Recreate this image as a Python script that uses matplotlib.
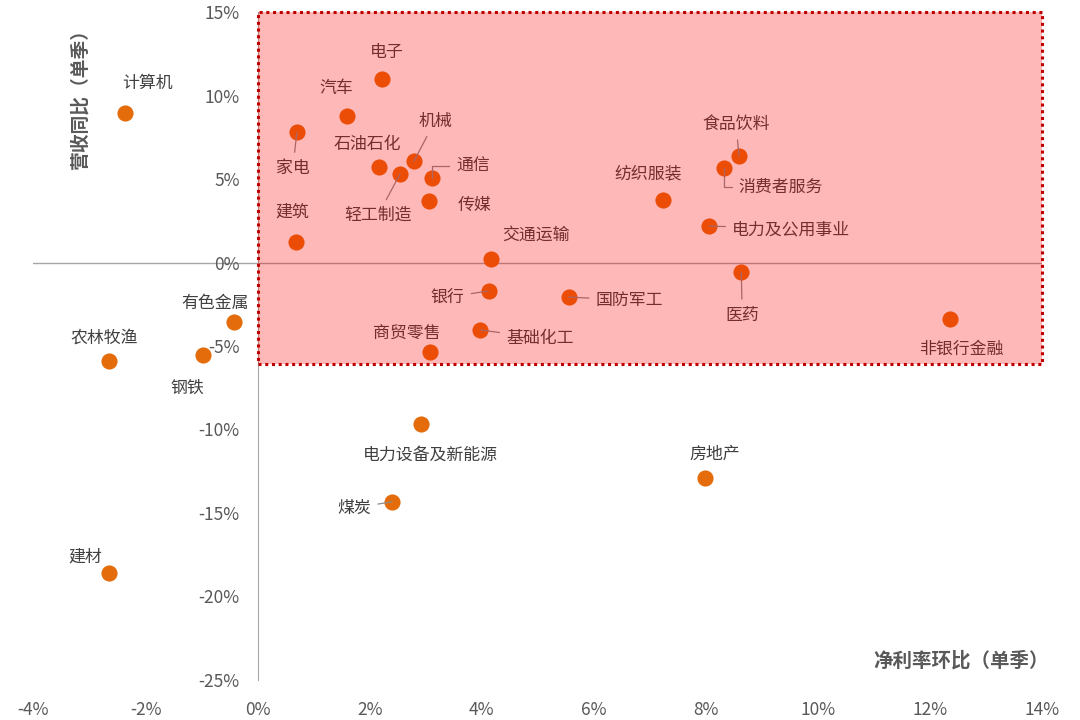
import matplotlib
matplotlib.use("Agg")
import matplotlib.pyplot as plt
from matplotlib.patches import Rectangle
from matplotlib.ticker import FuncFormatter

plt.rcParams['font.family'] = ['Noto Sans CJK SC', 'DejaVu Sans']

# data: net margin qoq (x, %), revenue yoy (y, %), single quarter
industries = ['计算机', '电子', '汽车', '家电', '石油石化', '机械', '轻工制造', '通信', '传媒',
              '建筑', '交通运输', '银行', '基础化工', '商贸零售', '国防军工', '纺织服装',
              '食品饮料', '消费者服务', '电力及公用事业', '医药', '非银行金融', '有色金属',
              '农林牧渔', '钢铁', '电力设备及新能源', '煤炭', '房地产', '建材']
net_margin_qoq = [-2.36, 2.22, 1.59, 0.70, 2.17, 2.79, 2.54, 3.11, 3.06,
                  0.68, 4.17, 4.12, 3.97, 3.08, 5.55, 7.23,
                  8.59, 8.32, 8.06, 8.63, 12.35, -0.43,
                  -2.65, -0.97, 2.92, 2.40, 7.98, -2.65]
revenue_yoy = [8.95, 10.99, 8.77, 7.81, 5.72, 6.08, 5.30, 5.06, 3.68,
               1.23, 0.21, -1.71, -4.04, -5.36, -2.07, 3.74,
               6.38, 5.66, 2.19, -0.57, -3.38, -3.56,
               -5.90, -5.54, -9.67, -14.34, -12.90, -18.59]

# label offsets in pixels (dx, dy) and whether a leader line is drawn
label_pos = {
    '计算机': (22, 30, False), '电子': (5, 27, False), '汽车': (-10, 28, False),
    '家电': (-4, -36, True), '石油石化': (-12, 23, False), '机械': (21, 40, True),
    '轻工制造': (-22, -41, True), '通信': (41, 12, True), '传媒': (45, -4, False),
    '建筑': (-3, 30, False), '交通运输': (45, 24, False), '银行': (-41, -6, True),
    '基础化工': (60, -8, True), '商贸零售': (-23, 19, False), '国防军工': (61, -3, True),
    '纺织服装': (-15, 27, False), '食品饮料': (-3, 32, True), '消费者服务': (57, -19, True),
    '电力及公用事业': (82, -3, True), '医药': (1, -43, True), '非银行金融': (12, -30, False),
    '有色金属': (-18, 19, False), '农林牧渔': (-5, 23, False), '钢铁': (-16, -33, False),
    '电力设备及新能源': (9, -31, False), '煤炭': (-38, -6, True), '房地产': (10, 24, False),
    '建材': (-24, 16, False),
}
elbow = {'通信', '消费者服务'}

fig = plt.figure(figsize=(10.8, 7.2), dpi=100)
ax = fig.add_axes([0.031, 0.056, 0.934, 0.927])
ax.set_xlim(-4, 14)
ax.set_ylim(-25, 15)

ax.axhline(0, color='#a6a6a6', lw=1, zorder=1)
ax.scatter(net_margin_qoq, revenue_yoy, s=135, color='#e46c0a', zorder=3, linewidths=0)

for name, x, y in zip(industries, net_margin_qoq, revenue_yoy):
    dx, dy, leader = label_pos[name]
    ap = None
    if leader:
        ap = dict(arrowstyle='-', color='#8c8c8c', lw=0.9, shrinkA=3, shrinkB=0)
        if name in elbow:
            ap['connectionstyle'] = 'angle,angleA=0,angleB=90,rad=0'
    ax.annotate(name, (x, y), xytext=(dx, dy), textcoords='offset pixels',
                ha='center', va='center', fontsize=12.2, color='#404040',
                arrowprops=ap, zorder=4)

# highlight box
ax.add_patch(Rectangle((0, -6.1), 14, 21.1, facecolor='#ff0000', alpha=0.28,
                       edgecolor='none', zorder=5))
ax.add_patch(Rectangle((0, -6.1), 14, 21.1, facecolor='none', edgecolor='#c00000',
                       lw=2.2, linestyle=(0, (1, 1.2)), zorder=6, clip_on=False))

for s in ['top', 'right', 'bottom']:
    ax.spines[s].set_visible(False)
ax.spines['left'].set_position(('data', 0))
ax.spines['left'].set_color('#a6a6a6')

ax.set_xticks(range(-4, 15, 2))
ax.set_yticks(range(-25, 16, 5))
pct = FuncFormatter(lambda v, p: f'{v:.0f}%')
ax.xaxis.set_major_formatter(pct)
ax.yaxis.set_major_formatter(pct)
ax.tick_params(axis='both', length=0, labelsize=12.5, labelcolor='#595959')
ax.tick_params(axis='x', pad=15)
ax.tick_params(axis='y', pad=13)

fig.text(0.971, 0.083, '净利率环比（单季）', ha='right', va='center', fontsize=14,
         fontweight='bold', color='#595959')
fig.text(0.074, 0.87, '营收同比（单季）', ha='center', va='center', rotation=90,
         fontsize=13.5, fontweight='bold', color='#595959')

fig.savefig('out.png', dpi=100)
